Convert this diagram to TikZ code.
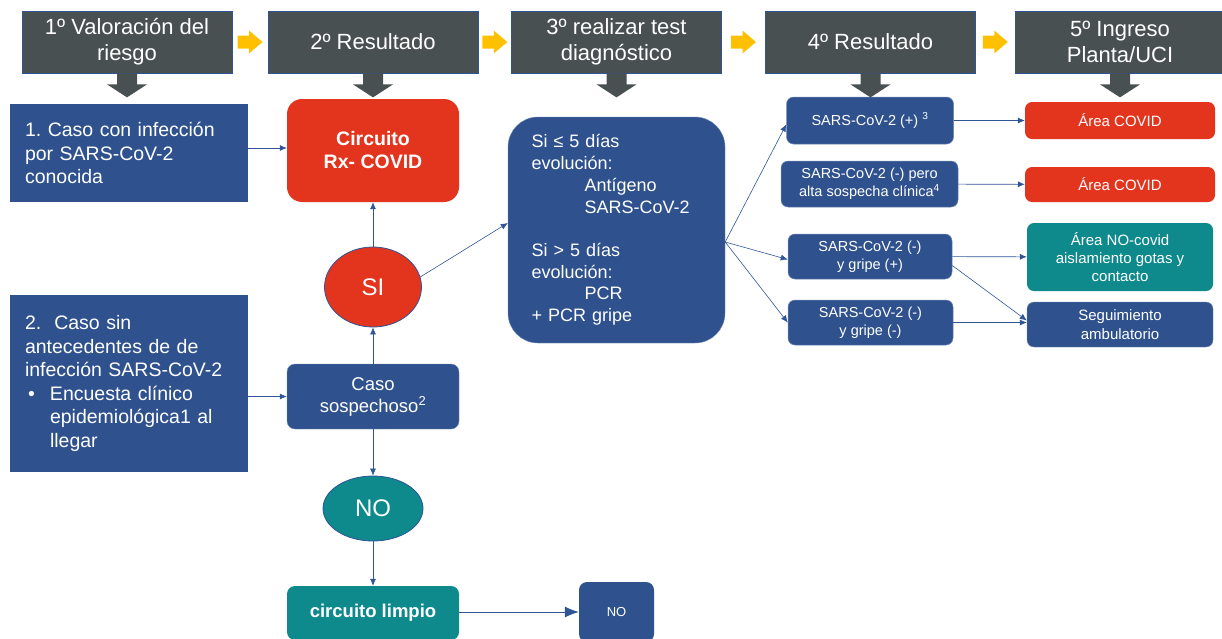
\documentclass[tikz,border=0pt]{standalone}
\usepackage{fontspec}
\setmainfont{Liberation Sans}
\usepackage{tikz}
\usetikzlibrary{positioning, arrows.meta, shapes.geometric, calc}

\definecolor{headgray}{HTML}{495051}
\definecolor{boxblue}{HTML}{2F528F}
\definecolor{boxred}{HTML}{E3341E}
\definecolor{boxteal}{HTML}{0E898C}
\definecolor{arroworange}{HTML}{FFC000}
\definecolor{lineblue}{HTML}{2F5597}

\tikzset{
    header/.style={rectangle, fill=headgray, draw=lineblue, line width=0.75pt,
        minimum width=210pt, minimum height=62pt, text=white, align=center,
        font={\fontsize{22}{26}\selectfont}},
    infobox/.style={rectangle, fill=boxblue, text=white, align=left,
        inner xsep=15pt, text width=208pt, font={\fontsize{19.5}{23.5}\selectfont}},
    stagebox/.style={rectangle, rounded corners=8pt, text=white, align=center,
        minimum width=172pt, inner sep=2pt},
    resbox/.style={rectangle, rounded corners=7pt, fill=boxblue, draw=lineblue!70,
        line width=0.5pt, text=white, align=center, inner sep=1pt,
        font={\fontsize{14.5}{17.7}\selectfont}},
    areabox/.style={rectangle, rounded corners=7pt, text=white, align=center,
        minimum width=188pt, inner sep=1pt, font={\fontsize{15}{18.3}\selectfont}},
    answer/.style={ellipse, draw=lineblue, line width=0.8pt, text=white,
        inner sep=0pt, font={\fontsize{24}{28}\selectfont}},
    conn/.style={draw=lineblue, line width=0.6pt, -{Latex[length=7pt,width=6pt]}}
}

\begin{document}
\frenchspacing
\begin{tikzpicture}[x=1pt, y=-1pt]
    \useasboundingbox (0,0) rectangle (1222,638);
    \clip (0,0) rectangle (1222,638);

    %Headers
    \node[header] at (127,42)    (h1) {1º Valoración del\\riesgo};
    \node[header] at (373,42)    (h2) {2º Resultado};
    \node[header] at (616.5,42)  (h3) {3º realizar test\\diagnóstico};
    \node[header] at (870.5,42)  (h4) {4º Resultado};
    \node[header] at (1120,42)   (h5) {5º Ingreso\\Planta/UCI};

    %Nodes
    \node[infobox, minimum height=98pt] at (129,153) (caso1)
        {1. Caso con infección\\por SARS-CoV-2\\conocida};
    \node[infobox, minimum height=177pt] at (129,383.5) (caso2)
        {2.\ \ Caso sin\\antecedentes de de\\infección SARS-CoV-2\\
         \makebox[25pt][l]{\hspace{3pt}•}Encuesta clínico\\
         \hspace*{25pt}epidemiológica1 al\\\hspace*{25pt}llegar};
    \node[stagebox, fill=boxred, rounded corners=15pt, minimum height=103pt,
        font={\bfseries\fontsize{19.5}{23}\selectfont}] at (373,150.5) (circuito)
        {Circuito\\Rx- COVID};
    \node[answer, fill=boxred, minimum width=97pt, minimum height=80pt] at (373,287) (si) {SI};
    \node[stagebox, fill=boxblue, draw=lineblue!70, minimum height=65pt,
        font={\fontsize{18.5}{22}\selectfont}] at (373,396.5) (sospechoso)
        {Caso\\sospechoso\textsuperscript{2}};
    \node[answer, fill=boxteal, minimum width=100pt, minimum height=65pt] at (373,508.5) (no) {NO};
    \node[stagebox, fill=boxteal, minimum height=54pt,
        font={\bfseries\fontsize{18.5}{22}\selectfont}] at (373,613) (limpio) {circuito limpio};
    \node[stagebox, fill=boxblue, minimum width=75pt, minimum height=60pt,
        font={\fontsize{13}{16}\selectfont}] at (616.5,612) (nofin) {NO};

    \node[rectangle, rounded corners=30pt, fill=boxblue, draw=lineblue!70, text=white,
        align=left, text width=170pt, inner xsep=23.5pt, minimum height=226pt,
        font={\fontsize{18}{21.7}\selectfont}] at (616.5,230) (test)
        {Si ≤ 5 días\\evolución:\\\hspace*{53pt}Antígeno\\\hspace*{53pt}SARS-CoV-2\\[21.7pt]
         Si > 5 días\\evolución:\\\hspace*{53pt}PCR\\+ PCR gripe};

    \node[resbox, minimum width=167pt, minimum height=47pt] at (870,120.5) (res1)
        {SARS-CoV-2 (+) \textsuperscript{3}};
    \node[resbox, minimum width=177pt, minimum height=46pt] at (869.5,184) (res2)
        {SARS-CoV-2 (-) pero\\alta sospecha clínica\textsuperscript{4}};
    \node[resbox, minimum width=164pt, minimum height=45pt] at (870,256.5) (res3)
        {SARS-CoV-2 (-)\\y gripe (+)};
    \node[resbox, minimum width=165pt, minimum height=45pt] at (870.5,322.5) (res4)
        {SARS-CoV-2 (-)\\y gripe (-)};

    \node[areabox, fill=boxred, minimum width=190pt, minimum height=37pt] at (1120,120.5) (area1) {Área COVID};
    \node[areabox, fill=boxred, minimum width=190pt, minimum height=35pt] at (1120,184.5) (area2) {Área COVID};
    \node[areabox, fill=boxteal, minimum width=186pt, minimum height=68pt] at (1120,257) (area3)
        {Área NO-covid\\aislamiento gotas y\\contacto};
    \node[areabox, fill=boxblue, draw=lineblue!70, minimum width=186pt, minimum height=45pt] at (1120,324.5) (area4)
        {Seguimiento\\ambulatorio};

    %Arrows between headers
    \foreach \a/\b in {h1/h2, h2/h3, h3/h4, h4/h5} {
        \coordinate (m) at ($(\a.east)!0.5!(\b.west)$);
        \fill[arroworange] (m) ++(-12.5,-6.5) -- ++(11.5,0) -- ++(0,-5) -- ++(13.5,11.5)
            -- ++(-13.5,11.5) -- ++(0,-5) -- ++(-11.5,0) -- cycle;
    }
    \foreach \h in {h1, h2, h3, h4, h5} {
        \fill[headgray] ([xshift=-10pt]\h.south) -- ++(0,11) -- ++(-10,0) -- ++(20,13)
            -- ++(20,-13) -- ++(-10,0) -- ++(0,-11) -- cycle;
    }

    %Lines
    \draw[conn] ([yshift=5pt]caso1.east) -- ([yshift=5pt]caso1.east -| circuito.west);
    \draw[conn] (caso2.east |- sospechoso.west) -- (sospechoso.west);
    \draw[conn] (sospechoso) -- (si);
    \draw[conn] (si) -- (circuito);
    \draw[conn] (si.12) -- ([yshift=7pt]test.west);
    \draw[conn] (sospechoso) -- (no);
    \draw[conn] (no) -- (limpio);
    \draw[draw=lineblue, line width=0.8pt, -{Latex[length=14pt,width=11pt]}]
        (limpio.east |- nofin.west) -- (nofin.west);

    \coordinate (fan) at ([yshift=-12pt]test.east);
    \draw[conn] (fan) -- ([yshift=-4pt]res1.west);
    \draw[conn] (fan) -- ([yshift=-3pt]res3.west);
    \draw[conn] (fan) -- (res4.west);

    \draw[conn] (res1) -- (area1);
    \draw[conn] (res2) -- (area2);
    \draw[conn] (res3) -- (area3);
    \draw[conn] (res4.east) -- (res4.east -| area4.west);
    \draw[conn] ([yshift=-9pt]res3.east) -- ([yshift=4pt]area4.west);
\end{tikzpicture}
\end{document}
